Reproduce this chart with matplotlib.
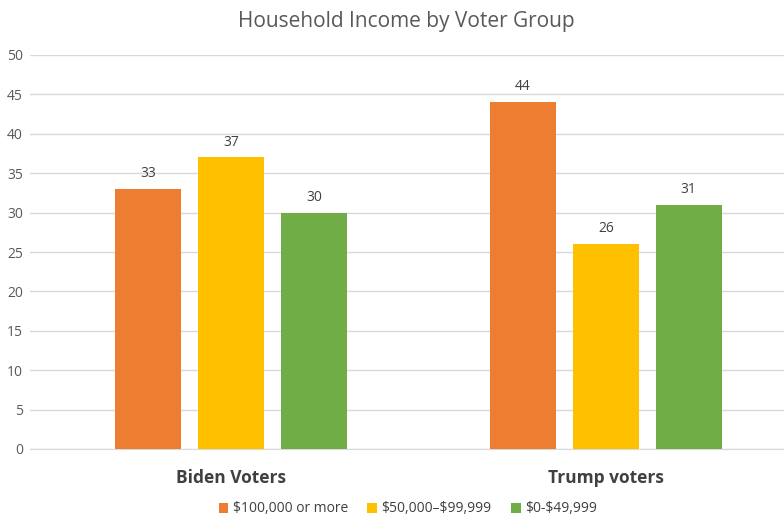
import matplotlib.pyplot as plt
import numpy as np

plt.rcParams['font.family'] = ['Open Sans', 'DejaVu Sans']
plt.rcParams['text.parse_math'] = False

groups = ['Biden Voters', 'Trump voters']
series = ['$100,000 or more', '$50,000–$99,999', '$0-$49,999']
values = [
    [33, 44],
    [37, 26],
    [30, 31],
]
colors = ['#ED7D31', '#FFC000', '#70AD47']

fig = plt.figure(figsize=(7.84, 5.17), dpi=100)
ax = fig.add_axes([30 / 784, 1 - 449 / 517, 754 / 784, 394 / 517])

x = np.arange(len(groups))
width = 0.176
step = 0.221
for i, (name, vals, c) in enumerate(zip(series, values, colors)):
    bars = ax.bar(x + (i - 1) * step, vals, width, color=c, label=name, zorder=3)
    for b, v in zip(bars, vals):
        ax.text(b.get_x() + b.get_width() / 2, v + 1.0, str(v), ha='center', va='bottom',
                fontsize=10, color='#404040')

ax.set_xlim(-0.536, 1.475)
ax.set_ylim(0, 50)
ax.set_yticks(range(0, 51, 5))
ax.yaxis.grid(True, color='#D9D9D9', linewidth=1, zorder=0)
for s in ['top', 'right', 'left']:
    ax.spines[s].set_visible(False)
ax.spines['bottom'].set_color('#D9D9D9')
ax.tick_params(axis='y', length=0, labelsize=10, labelcolor='#595959', pad=5)
ax.tick_params(axis='x', length=0, pad=0)
ax.set_xticks(x)
ax.set_xticklabels([])
for xi, g in zip(x, groups):
    ax.text(xi, -3.7, g, ha='center', va='center', fontsize=12.5, fontweight='bold',
            color='#404040')

fig.text(0.518, 1 - 22 / 517, 'Household Income by Voter Group', ha='center', va='center',
         fontsize=15, color='#595959')

fig.legend(loc='center', bbox_to_anchor=(0.52, 1 - 509 / 517), ncol=3, frameon=False,
           fontsize=10, handlelength=0.7, handleheight=0.7, handletextpad=0.3,
           columnspacing=1.4, labelcolor='#404040')

fig.savefig('out.png', dpi=100)
